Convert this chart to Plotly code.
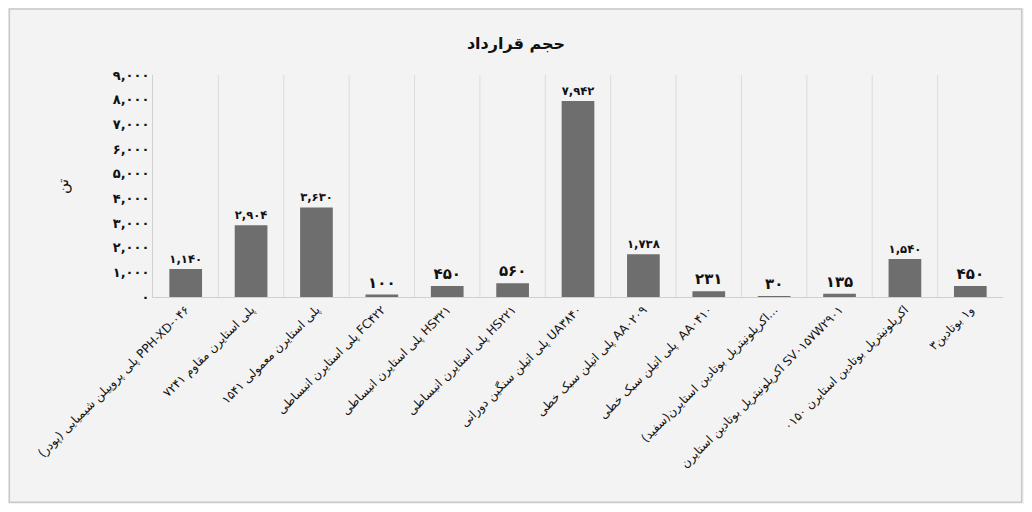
import plotly.graph_objects as go

categories = [
    "پلی پروپیلن شیمیایی (پودر) PPH-XD-۰۴۶",
    "پلی استایرن مقاوم ۷۲۴۱",
    "پلی استایرن معمولی ۱۵۴۱",
    "پلی استایرن انبساطی FC۴۲۲",
    "پلی استایرن انبساطی HS۳۲۱",
    "پلی استایرن انبساطی HS۲۲۱",
    "پلی اتیلن سنگین دورانی UA۳۸۴۰",
    "پلی اتیلن سبک خطی AA۰۲۰۹",
    "پلی اتیلن سبک خطی  AA۰۴۱۰",
    "اکریلونیتریل بوتادین استایرن(سفید)...",
    "اکریلونیتریل بوتادین استایرن SV۰۱۵۷W۲۹۰۱",
    "اکریلونیتریل بوتادین استایرن ۰۱۵۰",
    "۳و۱ بوتادین",
]
values = [1140, 2904, 3630, 100, 450, 560, 7942, 1738, 231, 30, 135, 1540, 450]
y_ticks = [0, 1000, 2000, 3000, 4000, 5000, 6000, 7000, 8000, 9000]

FA = str.maketrans("0123456789", "۰۱۲۳۴۵۶۷۸۹")


def fa(n):
    return f"<b>{n:,}</b>".translate(FA)


fig = go.Figure(go.Bar(
    x=list(range(len(categories))), y=values,
    text=[fa(v) for v in values], textposition="outside",
    textfont=dict(size=15, color="#111", family="DejaVu Sans"),
    marker=dict(color="#6e6e6e", line=dict(width=0)),
    width=0.5, cliponaxis=False,
))

fig.update_layout(
    width=1016, height=496,
    paper_bgcolor="#f3f3f3", plot_bgcolor="#f3f3f3",
    margin=dict(l=145, r=21, t=67, b=207),
    title=dict(text="<b>حجم قرارداد</b>", x=0.5, y=0.94, xanchor="center",
               font=dict(size=16, color="#111", family="DejaVu Sans")),
    showlegend=False,
    shapes=[dict(type="rect", xref="paper", yref="paper", x0=-0.169, x1=1.022, y0=-0.925, y1=1.297,
                 line=dict(color="#c8c8c8", width=1.5))],
)
fig.update_xaxes(
    tickvals=list(range(len(categories))), ticktext=categories,
    tickangle=-45, tickfont=dict(size=12, color="#111", family="DejaVu Sans"),
    showgrid=False, showline=True, linecolor="#d0d0d0", range=[-0.5, len(categories) - 0.5],
)
fig.update_yaxes(
    range=[0, 9000], tickvals=y_ticks, ticktext=[fa(v) for v in y_ticks],
    tickfont=dict(size=13, color="#111", family="DejaVu Sans"),
    showgrid=False, showline=True, linecolor="#d0d0d0", zeroline=False,
    title=dict(text="تن", font=dict(size=15, color="#111"), standoff=40),
)
for i in range(1, len(categories)):
    fig.add_vline(x=i - 0.5, line=dict(color="#dcdcdc", width=1))

fig.write_html("out.html")
